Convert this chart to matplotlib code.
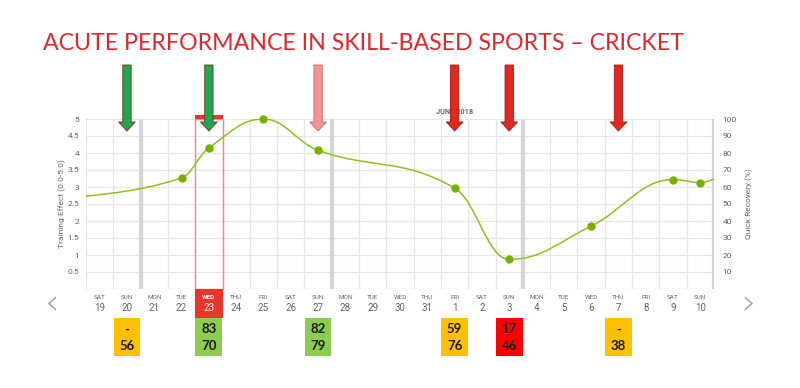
import matplotlib
matplotlib.use("Agg")
import matplotlib.pyplot as plt
from matplotlib.path import Path
from matplotlib.patches import PathPatch, Rectangle
from matplotlib.transforms import blended_transform_factory

# ---- data -----------------------------------------------------------------
day_names = ["SAT", "SUN", "MON", "TUE", "WED", "THU", "FRI", "SAT", "SUN", "MON",
             "TUE", "WED", "THU", "FRI", "SAT", "SUN", "MON", "TUE", "WED", "THU",
             "FRI", "SAT", "SUN"]
day_nums = ["19", "20", "21", "22", "23", "24", "25", "26", "27", "28", "29", "30",
            "31", "1", "2", "3", "4", "5", "6", "7", "8", "9", "10"]

# training effect readings (day index, value 0-5); first/last lie outside the window
te_idx = [-1, 3, 4, 6, 8, 13, 15, 18, 21, 22, 23]
te_val = [2.70, 3.27, 4.15, 5.00, 4.08, 2.97, 0.87, 1.85, 3.22, 3.13, 3.45]
te_shown = [False, True, True, True, True, True, True, True, True, True, False]

arrow_days = [1, 4, 8, 13, 15, 19]
arrow_kind = ["good", "good", "warn", "bad", "bad", "bad"]

box_days = [1, 4, 8, 13, 15, 19]
box_top = ["-", "83", "82", "59", "17", "-"]
box_bottom = ["56", "70", "79", "76", "46", "38"]
box_kind = ["mid", "good", "good", "mid", "low", "mid"]

selected_day = 4
week_breaks = [1.5, 8.5, 15.5, 22.5]

TITLE = "ACUTE PERFORMANCE IN SKILL-BASED SPORTS \u2013 CRICKET"

# ---- style ----------------------------------------------------------------
LINE = "#93c01f"
DOT = "#79b000"
GRID = "#e6e6e6"
WEEK = "#d6d6d6"
LAB = "#666666"
SEL = "#e8362d"
ARROW = {"good": ("#1ea84b", "#6b3325"), "warn": ("#f29593", "#c46a68"),
         "bad": ("#e2281f", "#9e1a15")}
BOX = {"mid": "#ffc000", "good": "#8dcc4e", "low": "#ff0000"}

plt.rcParams["font.family"] = ["Roboto", "DejaVu Sans"]

fig = plt.figure(figsize=(8, 3.88), dpi=100, facecolor="white")
ax = fig.add_axes([86 / 800, 1 - 289 / 388, 628 / 800, 170 / 388])
ax.set_xlim(-0.5, 22.5)
ax.set_ylim(0, 5)
for s in ax.spines.values():
    s.set_visible(False)

# grid
for k in range(24):
    ax.axvline(k - 0.5, color=GRID, lw=0.9, zorder=0)
for v in [i * 0.5 for i in range(11)]:
    ax.axhline(v, color=GRID, lw=0.9, zorder=0)
for b in week_breaks:
    ax.axvline(b, color=WEEK, lw=3, zorder=0.5)

ax.set_yticks([i * 0.5 for i in range(1, 11)])
ax.set_yticklabels(["0.5", "1", "1.5", "2", "2.5", "3", "3.5", "4", "4.5", "5"])
ax.tick_params(axis="y", length=0, labelsize=6, colors=LAB, pad=5)
ax.set_xticks([])

rax = ax.twinx()
rax.set_ylim(0, 100)
rax.set_yticks(range(10, 101, 10))
rax.tick_params(axis="y", length=0, labelsize=6, colors=LAB, pad=6)
for s in rax.spines.values():
    s.set_visible(False)


# smooth line, highcharts-style spline control points
def spline_path(xs, ys, smooth=1.5):
    n = len(xs)
    rc = [None] * n
    lc = [None] * n
    den = smooth + 1
    for i in range(1, n - 1):
        px, py = xs[i], ys[i]
        lx, ly = xs[i - 1], ys[i - 1]
        nx, ny = xs[i + 1], ys[i + 1]
        lcx = (smooth * px + lx) / den
        lcy = (smooth * py + ly) / den
        rcx = (smooth * px + nx) / den
        rcy = (smooth * py + ny) / den
        corr = (rcy - lcy) * (rcx - px) / (rcx - lcx) + py - rcy
        lcy += corr
        rcy += corr
        if lcy > ly and lcy > py:
            lcy = max(ly, py)
            rcy = 2 * py - lcy
        elif lcy < ly and lcy < py:
            lcy = min(ly, py)
            rcy = 2 * py - lcy
        if rcy > ny and rcy > py:
            rcy = max(ny, py)
            lcy = 2 * py - rcy
        elif rcy < ny and rcy < py:
            rcy = min(ny, py)
            lcy = 2 * py - rcy
        lc[i] = (lcx, lcy)
        rc[i] = (rcx, rcy)
    verts = [(xs[0], ys[0])]
    codes = [Path.MOVETO]
    for i in range(1, n):
        c1 = rc[i - 1] or (xs[i - 1], ys[i - 1])
        c2 = lc[i] or (xs[i], ys[i])
        verts += [c1, c2, (xs[i], ys[i])]
        codes += [Path.CURVE4] * 3
    return Path(verts, codes)


ax.add_patch(PathPatch(spline_path(te_idx, te_val), fill=False, ec=LINE, lw=1.1,
                       zorder=3))
ax.plot([x for x, s in zip(te_idx, te_shown) if s],
        [v for v, s in zip(te_val, te_shown) if s],
        "o", color=DOT, ms=5, zorder=4, clip_on=False)

# selected day highlight
bt = blended_transform_factory(ax.transData, ax.transAxes)
ax.add_patch(Rectangle((selected_day - 0.5, 0), 1, 1, transform=bt, fill=False,
                       ec="#f08a86", lw=1, zorder=2, clip_on=False))
ax.add_patch(Rectangle((selected_day - 0.5, 1.0), 1, 0.022, transform=bt,
                       fc=SEL, ec="none", zorder=5, clip_on=False))
ax.add_patch(Rectangle((selected_day - 0.5, -0.17), 1, 0.17, transform=bt,
                       fc=SEL, ec="none", zorder=2, clip_on=False))

# date labels
for i, (nm, nu) in enumerate(zip(day_names, day_nums)):
    c = "white" if i == selected_day else LAB
    ax.text(i, -0.052, nm, transform=bt, ha="center", va="center", fontsize=4.6,
            color=c, fontweight="bold" if i == selected_day else "normal")
    ax.text(i, -0.112, nu, transform=bt, ha="center", va="center", fontsize=7,
            color=c)
ax.text(13, 1.042, "JUNE 2018", transform=bt, ha="center", va="center",
        fontsize=5.3, color=LAB, fontweight="bold")

# score boxes
for d, t1, t2, k in zip(box_days, box_top, box_bottom, box_kind):
    ax.add_patch(Rectangle((d - 0.49, -0.394), 0.98, 0.224, transform=bt,
                           fc=BOX[k], ec="none", clip_on=False))
    for yy, t in ((-0.237, t1), (-0.333, t2)):
        ax.text(d, yy, t, transform=bt, ha="center", va="center", fontsize=9.5,
                fontweight="bold", color="#1a1a1a", family=["Lato", "DejaVu Sans"])

# load arrows
for d, k in zip(arrow_days, arrow_kind):
    fc, ec = ARROW[k]
    ax.annotate("", xy=(d, 1 - 131 / 388), xytext=(d, 1 - 65 / 388),
                xycoords=("data", "figure fraction"),
                textcoords=("data", "figure fraction"),
                arrowprops=dict(arrowstyle="simple,head_length=0.65,head_width=1.2,tail_width=0.6",
                                fc=fc, ec=ec, lw=0.6, shrinkA=0, shrinkB=0,
                                mutation_scale=10),
                annotation_clip=False, zorder=6)

fig.text(62 / 800, 1 - 204 / 388, "Training Effect (0.0-5.0)", rotation=90,
         ha="center", va="center", fontsize=6, color=LAB)
fig.text(749 / 800, 1 - 204 / 388, "Quick Recovery (%)", rotation=90,
         ha="center", va="center", fontsize=6, color=LAB)
fig.text(52 / 800, 1 - 304 / 388, "\u2039", ha="center", va="center", fontsize=26,
         color="#a8a8a8", family=["DejaVu Sans"], fontweight="light")
fig.text(748 / 800, 1 - 304 / 388, "\u203a", ha="center", va="center", fontsize=26,
         color="#a8a8a8", family=["DejaVu Sans"], fontweight="light")

# title, sized so it spans the same width as the reference banner
title = fig.text(43 / 800, 1 - 43 / 388, TITLE, ha="left", va="center",
                 fontsize=24, color="#e3262a", family=["Lato", "DejaVu Sans"])
r = fig.canvas.get_renderer()
w = title.get_window_extent(renderer=r).width
title.set_fontsize(24 * 640 / w)

fig.savefig("out.png", dpi=100, facecolor="white")
